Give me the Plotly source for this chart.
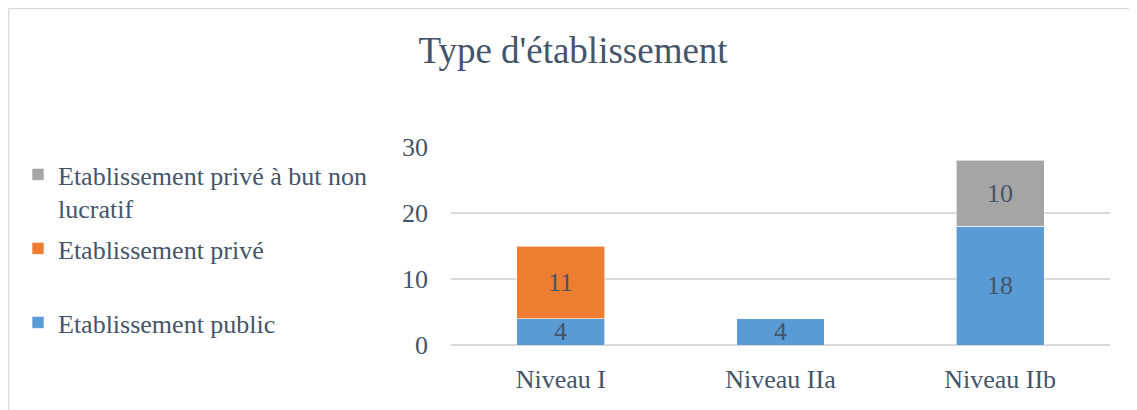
import plotly.graph_objects as go

categories = ["Niveau I", "Niveau IIa", "Niveau IIb"]
public_vals = [4, 4, 18]
prive_vals = [11, None, None]
nonlucratif_vals = [None, None, 10]
series_names = ["Etablissement public", "Etablissement privé",
                "Etablissement privé à but non<br>lucratif"]
title_text = "Type d'établissement"
y_ticks = [0, 10, 20, 30]

# page is offset by 8px body margin
OFF = 8
W, H = 1137, 410
ML, MR, MT, MB = 451 - OFF, 27 + OFF, 147 - OFF, 65 + OFF
TXT = "#44546A"
FONT = "Liberation Serif"

fig = go.Figure()
colors = ["#5B9BD5", "#ED7D31", "#A5A5A5"]
series = [public_vals, prive_vals, nonlucratif_vals]
legends = ["legend3", "legend2", "legend"]
for name, vals, col, lg in zip(series_names, series, colors, legends):
    fig.add_trace(go.Bar(
        x=categories, y=vals, name=name,
        marker=dict(color=col, line=dict(color="rgba(255,255,255,0.6)", width=1)),
        legend=lg, hoverinfo="skip"))

# data labels at middle of each segment
base = [0, 0, 0]
for vals in series:
    for i, v in enumerate(vals):
        if v:
            fig.add_annotation(x=categories[i], y=base[i] + v / 2, text=str(v),
                               showarrow=False, xref="x", yref="y",
                               font=dict(family=FONT, size=26, color=TXT))
            base[i] += v

pw = W - ML - MR
ph = H - MT - MB
def px(xp):  # page x -> paper
    return (xp - OFF - ML) / pw
def py(yp):  # page y -> paper
    return (H - MB - (yp - OFF)) / ph

fig.add_shape(type="line", xref="paper", yref="paper", x0=px(8.5), x1=px(1145), y0=py(8.5), y1=py(8.5),
              line=dict(color="#D9D9D9", width=1.5))
fig.add_shape(type="line", xref="paper", yref="paper", x0=px(8.5), x1=px(8.5), y0=py(8.5), y1=py(420),
              line=dict(color="#D9D9D9", width=1.5))

leg_common = dict(xref="container", yref="container", xanchor="left", yanchor="top",
                  font=dict(family=FONT, size=26, color=TXT), bgcolor="rgba(0,0,0,0)",
                  valign="top", borderwidth=0)
def lx(p):
    return (p - OFF) / W
def ly(p):
    return 1 - (p - OFF) / H

fig.update_layout(
    width=W, height=H,
    margin=dict(l=ML, r=MR, t=MT, b=MB),
    paper_bgcolor="white", plot_bgcolor="white",
    barmode="stack", bargap=0.6,
    showlegend=True,
    title=dict(text=title_text, x=lx(573), xanchor="center", y=ly(50), yanchor="middle",
               font=dict(family=FONT, size=37, color=TXT)),
    font=dict(family=FONT, size=26, color=TXT),
    legend=dict(x=lx(18), y=ly(151), **leg_common),
    legend2=dict(x=lx(18), y=ly(225), **leg_common),
    legend3=dict(x=lx(18), y=ly(299), **leg_common),
    xaxis=dict(showline=False, ticks="", ticklabelstandoff=16,
               tickfont=dict(family=FONT, size=26, color=TXT)),
    yaxis=dict(range=[0, 30], tickvals=y_ticks, showgrid=True, gridcolor="#D9D9D9", gridwidth=1.5,
               zeroline=True, zerolinecolor="#D9D9D9", zerolinewidth=1.5, showline=False,
               ticks="", ticklabelstandoff=22,
               tickfont=dict(family=FONT, size=26, color=TXT)),
)
fig.write_html("out.html")
